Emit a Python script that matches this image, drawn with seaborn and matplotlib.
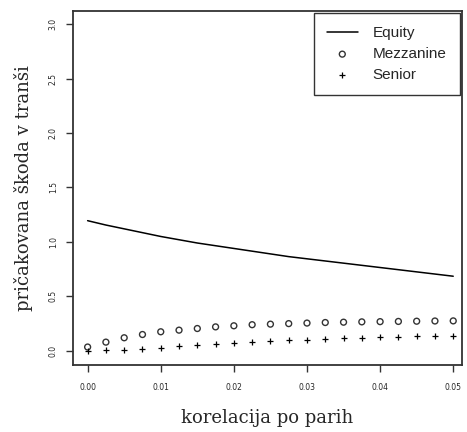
import numpy as np
import pandas as pd
import matplotlib
matplotlib.use("Agg")
import matplotlib.pyplot as plt
import seaborn as sns

korelacija = [0.0, 0.0025, 0.005, 0.0075, 0.01, 0.0125, 0.015, 0.0175, 0.02, 0.0225,
              0.025, 0.0275, 0.03, 0.0325, 0.035, 0.0375, 0.04, 0.0425, 0.045, 0.0475, 0.05]
equity = [1.195, 1.155, 1.12, 1.085, 1.05, 1.02, 0.99, 0.965, 0.94, 0.915,
          0.89, 0.865, 0.845, 0.825, 0.805, 0.785, 0.765, 0.745, 0.725, 0.705, 0.685]
mezzanine = [0.035, 0.08, 0.12, 0.15, 0.175, 0.19, 0.205, 0.22, 0.23, 0.24,
             0.245, 0.25, 0.255, 0.26, 0.263, 0.266, 0.268, 0.27, 0.272, 0.274, 0.275]
senior = [0.0, 0.005, 0.012, 0.02, 0.03, 0.04, 0.05, 0.06, 0.07, 0.08,
          0.088, 0.095, 0.102, 0.108, 0.114, 0.119, 0.124, 0.128, 0.132, 0.135, 0.138]

x_ticks = [0.00, 0.01, 0.02, 0.03, 0.04, 0.05]
x_ticklabels = ["0.00", "0.01", "0.02", "0.03", "0.04", "0.05"]
y_ticks = [0.0, 0.5, 1.0, 1.5, 2.0, 2.5, 3.0]
y_ticklabels = ["0.0", "0.5", "1.0", "1.5", "2.0", "2.5", "3.0"]

df = pd.DataFrame({"x": korelacija, "Equity": equity, "Mezzanine": mezzanine, "Senior": senior})

sns.set_style("white")
plt.rcParams["font.family"] = ["DejaVu Sans"]

fig = plt.figure(figsize=(4.67, 4.32), dpi=100)
ax = fig.add_axes([73/467, 1-365/432, (462-73)/467, (365-11)/432])

sns.lineplot(data=df, x="x", y="Equity", ax=ax, color="black", linewidth=1.1, label="Equity")
sns.scatterplot(data=df, x="x", y="Mezzanine", ax=ax, marker="o", s=18,
                facecolor="none", edgecolor="#333333", linewidth=1.0, label="Mezzanine")
sns.scatterplot(data=df, x="x", y="Senior", ax=ax, marker="+", s=22,
                color="black", linewidth=0.9, label="Senior")

ax.set_xlim(-0.002, 0.0512)
ax.set_ylim(-0.13, 3.12)
ax.set_xticks(x_ticks)
ax.set_xticklabels(x_ticklabels, fontsize=5.5)
ax.set_yticks(y_ticks)
ax.set_yticklabels(y_ticklabels, fontsize=5.5, rotation=90, va="center")
ax.tick_params(axis="both", direction="out", length=5, width=1, color="#333333",
               left=True, bottom=True)
ax.tick_params(axis="x", pad=8)
ax.tick_params(axis="y", pad=6)
for s in ax.spines.values():
    s.set_linewidth(1.3)
    s.set_color("#333333")

ax.set_xlabel("korelacija po parih", family="DejaVu Serif", fontsize=13, labelpad=12)
ax.set_ylabel("pričakovana škoda v tranši", family="DejaVu Serif", fontsize=13, labelpad=11)

leg = ax.legend(loc="upper right", frameon=True, fancybox=False, edgecolor="black",
                borderaxespad=0.15, prop={"family": "Liberation Sans", "size": 11},
                handlelength=2.0, handletextpad=1.0, labelspacing=0.45, borderpad=0.85)
leg.get_frame().set_linewidth(1.0)

fig.savefig("out.png", dpi=100)
